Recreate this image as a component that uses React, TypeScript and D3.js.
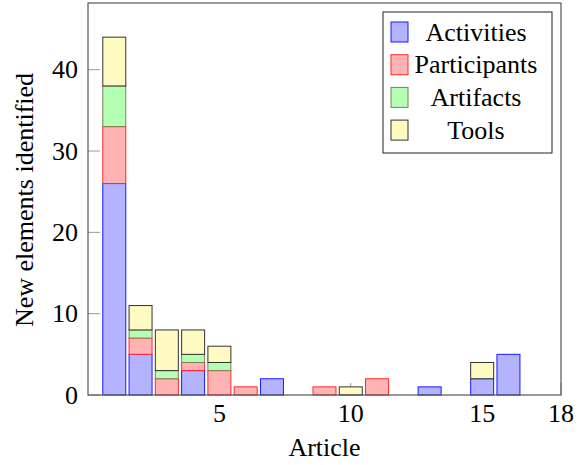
import React from "react";
import * as d3 from "d3";

// article numbers and the counts per category
const articles = [1, 2, 3, 4, 5, 6, 7, 8, 9, 10, 11, 12, 13, 14, 15, 16];
const activities = [26, 5, 0, 3, 0, 0, 2, 0, 0, 0, 0, 0, 1, 0, 2, 5];
const participants = [7, 2, 2, 1, 3, 1, 0, 0, 1, 0, 2, 0, 0, 0, 0, 0];
const artifacts = [5, 1, 1, 1, 1, 0, 0, 0, 0, 0, 0, 0, 0, 0, 0, 0];
const tools = [6, 3, 5, 3, 2, 0, 0, 0, 0, 1, 0, 0, 0, 0, 2, 0];

const seriesNames = ["Activities", "Participants", "Artifacts", "Tools"];
const seriesFill = ["#b3b3ff", "#ffb3b3", "#b3ffb3", "#fff9c2"];
const seriesStroke = ["#1a1aff", "#ff2a2a", "#8a7a58", "#333333"];

const xTicks = [5, 10, 15, 18];
const yTicks = [0, 10, 20, 30, 40];

const width = 584;
const height = 465;
const marginLeft = 88;
const marginRight = 23;
const marginTop = 3;
const marginBottom = 70;
const textStyle = { fontFamily: "Liberation Serif, Times New Roman, serif", fontSize: "26px" };

export default function App() {
  const x = d3.scaleLinear().domain([0, 18]).range([marginLeft, width - marginRight]);
  const y = d3.scaleLinear().domain([0, 48.2]).range([height - marginBottom, marginTop]);

  const rows = articles.map((a, i) => ({
    article: a,
    Activities: activities[i],
    Participants: participants[i],
    Artifacts: artifacts[i],
    Tools: tools[i],
  }));
  const stacked = d3.stack<any>().keys(seriesNames)(rows);

  const barW = x(0.875) - x(0);
  const bottom = height - marginBottom;

  return (
    <svg width={width} height={height} style={{ position: "absolute", left: 0, top: 0, background: "#fff" }}>
      {/* ticks (drawn under the bars) */}
      {yTicks.map((t) => (
        <line key={"yt" + t} x1={marginLeft} x2={marginLeft + 12} y1={y(t)} y2={y(t)} stroke="#999" strokeWidth={1} />
      ))}
      {xTicks.map((t) => (
        <line key={"xt" + t} x1={x(t)} x2={x(t)} y1={bottom} y2={bottom - 12} stroke="#999" strokeWidth={1} />
      ))}

      {/* stacked bars */}
      {stacked.map((s, si) => (
        <g key={s.key}>
          {s.map((d, i) =>
            d[1] - d[0] > 0 ? (
              <rect
                key={i}
                x={x(articles[i]) - barW / 2}
                width={barW}
                y={y(d[1])}
                height={y(d[0]) - y(d[1])}
                fill={seriesFill[si]}
                stroke={seriesStroke[si]}
                strokeWidth={1}
              />
            ) : null
          )}
        </g>
      ))}

      {/* frame */}
      <rect
        x={marginLeft}
        y={marginTop}
        width={width - marginLeft - marginRight}
        height={bottom - marginTop}
        fill="none"
        stroke="#555"
        strokeWidth={1.2}
      />

      {/* tick labels */}
      {yTicks.map((t) => (
        <text key={"yl" + t} style={textStyle} x={78} y={y(t)} dy="0.33em" textAnchor="end">
          {t}
        </text>
      ))}
      {xTicks.map((t) => (
        <text key={"xl" + t} style={textStyle} x={x(t)} y={422} textAnchor="middle">
          {t}
        </text>
      ))}

      {/* axis labels */}
      <text style={textStyle} x={x(9)} y={456} textAnchor="middle">
        Article
      </text>
      <text style={textStyle} transform={`translate(33,200) rotate(-90)`} textAnchor="middle">
        New elements identified
      </text>

      {/* legend */}
      <g>
        <rect x={383} y={12} width={169} height={141} fill="#fff" stroke="#222" strokeWidth={1} />
        {seriesNames.map((n, i) => (
          <g key={n} transform={`translate(0,${32 + i * 32.7})`}>
            <rect x={391} y={-10} width={17} height={20} fill={seriesFill[i]} stroke={seriesStroke[i]} strokeWidth={1} />
            <text style={textStyle} x={476} y={0} dy="0.33em" textAnchor="middle">
              {n}
            </text>
          </g>
        ))}
      </g>
    </svg>
  );
}
